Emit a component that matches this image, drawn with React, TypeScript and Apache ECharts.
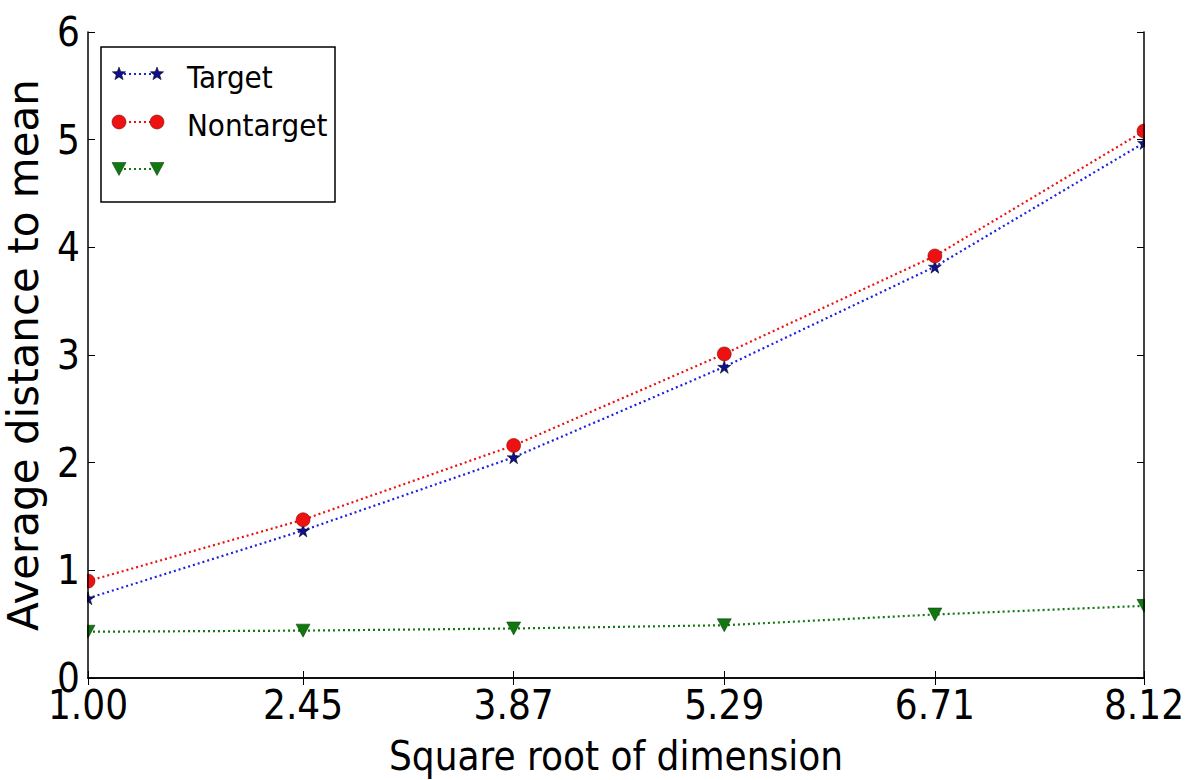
import React, { useEffect, useRef } from "react";
import * as echarts from "echarts";

const xValues = [1.0, 2.45, 3.87, 5.29, 6.71, 8.12];
const targetValues = [0.74, 1.37, 2.05, 2.89, 3.82, 4.97];
const nontargetValues = [0.9, 1.47, 2.16, 3.01, 3.92, 5.08];
const thirdValues = [0.43, 0.44, 0.46, 0.49, 0.59, 0.67];
const yTicks = [0, 1, 2, 3, 4, 5, 6];
const legendLabels = ["Target", "Nontarget", ""];

const FONT = '"DejaVu Sans Condensed", "DejaVu Sans", sans-serif';
const STAR = "path://M50,0 L61,35 L98,35 L68,57 L79,91 L50,70 L21,91 L32,57 L2,35 L39,35 Z";

const BLUE_LINE = "#2020e0";
const BLUE_MARK = "#10108c";
const RED = "#ee1111";
const GREEN = "#117711";

function starPoints(cx: number, cy: number, r: number) {
  const pts: number[][] = [];
  for (let i = 0; i < 10; i++) {
    const rr = i % 2 === 0 ? r : r * 0.42;
    const a = -Math.PI / 2 + (i * Math.PI) / 5;
    pts.push([cx + rr * Math.cos(a), cy + rr * Math.sin(a)]);
  }
  return pts;
}

export default function App() {
  const ref = useRef<HTMLDivElement>(null);
  useEffect(() => {
    document.body.style.margin = "0";
    const chart = echarts.init(ref.current!, undefined, { renderer: "svg" });
    const pair = (arr: number[]) => xValues.map((x, i) => [x, arr[i]]);

    const legendItems: any[] = [
      { type: "rect", shape: { x: 101, y: 47, width: 234, height: 155 }, style: { fill: "#fff", stroke: "#000", lineWidth: 1.5 }, z: 20 },
    ];
    const rows = [
      { y: 74, color: BLUE_LINE, mark: "star" },
      { y: 122, color: RED, mark: "circle" },
      { y: 169, color: GREEN, mark: "tri" },
    ];
    rows.forEach((r, i) => {
      legendItems.push({
        type: "line",
        shape: { x1: 119, y1: r.y, x2: 157, y2: r.y },
        style: { stroke: r.color, lineWidth: 2.2, lineDash: [2, 3] },
        z: 21,
      });
      [119, 157].forEach((cx) => {
        if (r.mark === "star") {
          legendItems.push({ type: "polygon", shape: { points: starPoints(cx, r.y, 7) }, style: { fill: BLUE_MARK, stroke: "#000", lineWidth: 0.5 }, z: 22 });
        } else if (r.mark === "circle") {
          legendItems.push({ type: "circle", shape: { cx, cy: r.y, r: 7 }, style: { fill: RED, stroke: "#700", lineWidth: 0.5 }, z: 22 });
        } else {
          legendItems.push({ type: "polygon", shape: { points: [[cx - 7, r.y - 6.5], [cx + 7, r.y - 6.5], [cx, r.y + 6.5]] }, style: { fill: GREEN, stroke: "#030", lineWidth: 0.5 }, z: 22 });
        }
      });
      if (legendLabels[i]) {
        legendItems.push({
          type: "text",
          style: { text: legendLabels[i], x: 187, y: r.y + 3, fill: "#000", font: `31px ${FONT}`, textVerticalAlign: "middle" },
          z: 22,
        });
      }
    });

    const masks = [
      { type: "rect", shape: { x: 0, y: 0, width: 87, height: 780 }, style: { fill: "#fff" }, z: 3 },
      { type: "rect", shape: { x: 1145, y: 0, width: 41, height: 780 }, style: { fill: "#fff" }, z: 3 },
      { type: "rect", shape: { x: 0, y: 0, width: 1186, height: 31 }, style: { fill: "#fff" }, z: 3 },
    ];

    const axisLine = { show: true, lineStyle: { color: "#000", width: 1.5 } };
    const tick = { show: true, inside: true, length: 7, lineStyle: { color: "#000", width: 1 } };

    chart.setOption({
      animation: false,
      backgroundColor: "#fff",
      grid: { left: 88, right: 42, top: 32, bottom: 102, outerBoundsMode: "none", containLabel: false },
      xAxis: [
        {
          type: "value",
          min: 1,
          max: 8.12,
          position: "bottom",
          z: 10,
          axisLine,
          axisTick: { ...tick, customValues: xValues },
          splitLine: { show: false },
          axisLabel: {
            customValues: xValues,
            formatter: (v: number) => v.toFixed(2),
            color: "#000",
            fontSize: 40,
            lineHeight: 30,
            fontFamily: FONT,
            margin: 12,
          },
          name: "Square root of dimension",
          nameLocation: "middle",
          nameGap: 58,
          nameTextStyle: { color: "#000", fontSize: 40, fontFamily: FONT },
        },
        {
          type: "value",
          min: 1,
          max: 8.12,
          position: "top",
          z: 10,
          axisLine,
          axisTick: { ...tick, customValues: xValues },
          splitLine: { show: false },
          axisLabel: { show: false },
        },
      ],
      yAxis: [
        {
          type: "value",
          min: 0,
          max: 6,
          interval: 1,
          position: "left",
          z: 10,
          axisLine,
          axisTick: tick,
          splitLine: { show: false },
          axisLabel: {
            customValues: yTicks,
            color: "#000",
            fontSize: 40,
            lineHeight: 30,
            padding: [0, 0, 8, 0],
            fontFamily: FONT,
            margin: 8,
          },
          name: "Average distance to mean",
          nameLocation: "middle",
          nameGap: 44,
          nameTextStyle: { color: "#000", fontSize: 42, fontFamily: '"DejaVu Sans", sans-serif' },
        },
        {
          type: "value",
          min: 0,
          max: 6,
          interval: 1,
          position: "right",
          z: 10,
          axisLine,
          axisTick: tick,
          splitLine: { show: false },
          axisLabel: { show: false },
        },
      ],
      graphic: [...masks, ...legendItems],
      series: [
        {
          name: "Target",
          type: "line",
          data: pair(targetValues),
          symbol: STAR,
          symbolSize: 13,
          z: 2,
          lineStyle: { color: BLUE_LINE, width: 2.2, type: [2, 3] },
          itemStyle: { color: BLUE_MARK, borderColor: "#000", borderWidth: 0.5 },
        },
        {
          name: "Nontarget",
          type: "line",
          data: pair(nontargetValues),
          symbol: "circle",
          symbolSize: 14,
          z: 2,
          lineStyle: { color: RED, width: 2.2, type: [2, 3] },
          itemStyle: { color: RED, borderColor: "#700", borderWidth: 0.5 },
        },
        {
          name: "Third",
          type: "line",
          data: pair(thirdValues),
          symbol: "triangle",
          symbolRotate: 180,
          symbolSize: [14, 13],
          z: 2,
          lineStyle: { color: GREEN, width: 2.2, type: [2, 3] },
          itemStyle: { color: GREEN, borderColor: "#030", borderWidth: 0.5 },
        },
      ],
    });
    return () => chart.dispose();
  }, []);
  return <div ref={ref} style={{ width: 1186, height: 780 }} />;
}
